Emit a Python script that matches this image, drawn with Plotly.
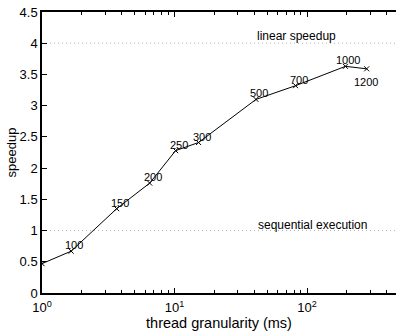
import numpy as np
import plotly.graph_objects as go

granularity = [1.0, 1.66, 3.66, 6.5, 10.2, 15.2, 41.2, 82.0, 195.0, 282.0]
speedup = [0.47, 0.67, 1.35, 1.76, 2.28, 2.41, 3.10, 3.32, 3.63, 3.59]
point_labels = ["", "100", "150", "200", "250", "300", "500", "700", "1000", "1200"]

ref_levels = [4.0, 1.0]
ref_labels = ["linear speedup", "sequential execution"]
ref_label_x = [83.5, 110.0]
ref_label_y = [4.11, 1.095]

y_ticks = [0, 0.5, 1, 1.5, 2, 2.5, 3, 3.5, 4, 4.5]
x_ticks = [1, 10, 100]
x_ticktext = ["10<sup>0</sup>", "10<sup>1</sup>", "10<sup>2</sup>"]
x_minor = [2, 3, 4, 5, 6, 7, 8, 9, 20, 30, 40, 50, 60, 70, 80, 90, 200, 300, 400]

FONT = "Liberation Sans, Arial, Helvetica, sans-serif"

fig = go.Figure()
fig.add_trace(go.Scatter(
    x=granularity, y=speedup, mode="lines+markers",
    line=dict(color="black", width=1),
    marker=dict(symbol="x-thin", size=5, color="black", line=dict(color="black", width=1)),
    showlegend=False, hoverinfo="skip"))

for lvl in ref_levels:
    fig.add_shape(type="line", xref="paper", x0=0, x1=1, yref="y", y0=lvl, y1=lvl,
                  line=dict(color="#b4b4b4", width=1, dash="1px,3px"), layer="below")

for gx, sy, lab in zip(granularity, speedup, point_labels):
    if not lab:
        continue
    below = lab == "1200"
    fig.add_annotation(x=np.log10(gx), y=sy, text=lab, showarrow=False,
                       xshift=-1 if below else 3, yshift=-13 if below else 6,
                       font=dict(family=FONT, size=11, color="black"))

for lx, ly, lab in zip(ref_label_x, ref_label_y, ref_labels):
    fig.add_annotation(x=np.log10(lx), y=ly, text=lab, showarrow=False,
                       font=dict(family=FONT, size=12, color="black"))

fig.update_layout(
    width=396, height=333,
    margin=dict(l=42, r=0, t=12, b=40),
    plot_bgcolor="white", paper_bgcolor="white",
    font=dict(family=FONT, size=13, color="black"),
    xaxis=dict(type="log", range=[0, 354 / 132.5],
               tickvals=x_ticks, ticktext=x_ticktext,
               ticks="inside", ticklen=5, tickcolor="black", ticklabelstandoff=2,
               showline=True, linecolor="black", linewidth=1.5, mirror="ticks",
               showgrid=False, zeroline=False,
               minor=dict(tickvals=x_minor, ticks="inside", ticklen=3, tickcolor="black", showgrid=False),
               title=dict(text="thread granularity (ms)", font=dict(size=14.5), standoff=0)),
    yaxis=dict(range=[0, 4.5], tickvals=y_ticks,
               ticktext=[f"{v:g}" for v in y_ticks],
               ticks="inside", ticklen=5, tickcolor="black",
               showline=True, linecolor="black", linewidth=1.5, mirror=False,
               showgrid=False, zeroline=False,
               title=dict(text="speedup", font=dict(size=13), standoff=0)),
)

fig.write_html("out.html")
